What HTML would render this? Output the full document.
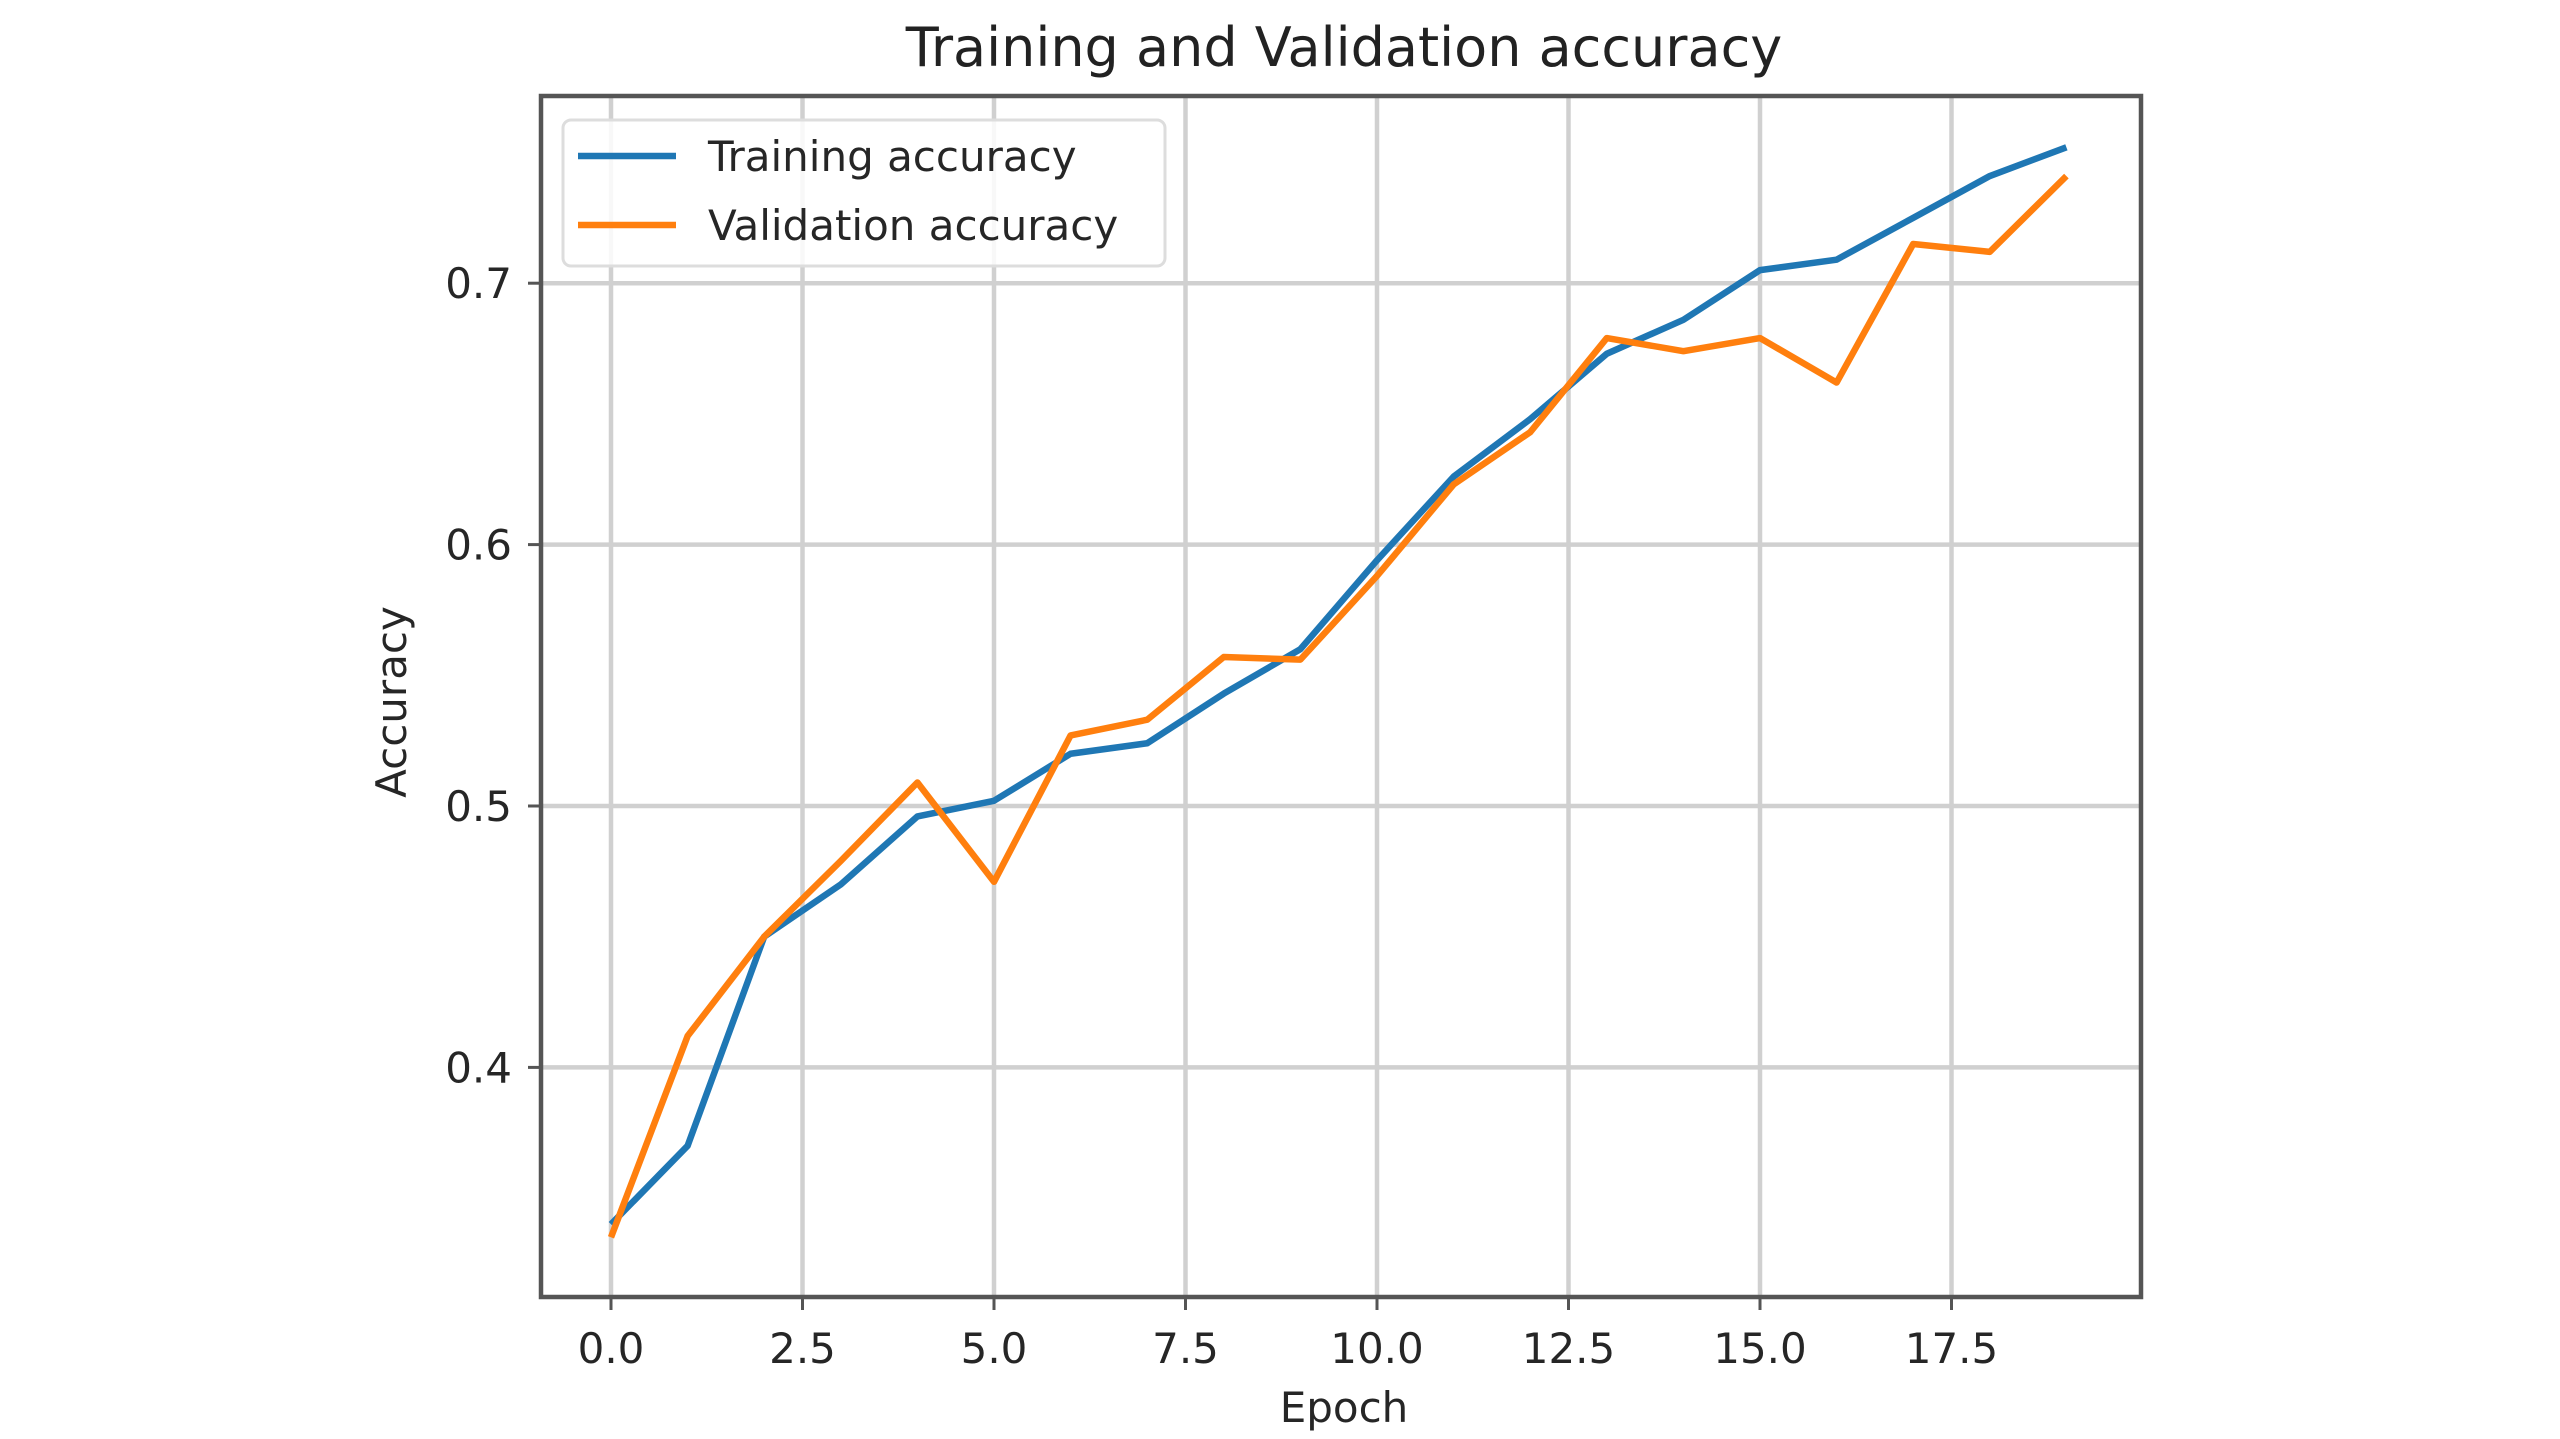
<!DOCTYPE html>
<html><head><meta charset="utf-8"><style>
html,body{margin:0;padding:0;background:#fff;}
svg{display:block;font-family:"DejaVu Sans","Liberation Sans",sans-serif;}
</style></head><body>
<svg id="chart" width="2560" height="1439" viewBox="0 0 2560 1439">
<rect x="0" y="0" width="2560" height="1439" fill="#fff"/>
<g id="grid"></g>
<g id="series"></g>
<rect x="541" y="96" width="1600" height="1201" fill="none" stroke="#555" stroke-width="4.5"/>
<g id="ticks"></g>
<text x="1344" y="66" font-size="54" text-anchor="middle" fill="#222">Training and Validation accuracy</text>
<text x="1344" y="1422" font-size="42" text-anchor="middle" fill="#262626">Epoch</text>
<text x="0" y="0" font-size="42" text-anchor="middle" fill="#262626" transform="translate(406,702) rotate(-90)">Accuracy</text>
<g>
<rect x="563" y="120" width="602" height="146" rx="8" fill="#fff" fill-opacity="0.85" stroke="#ddd" stroke-width="3"/>
<line x1="578" y1="156" x2="676" y2="156" stroke="#1f77b4" stroke-width="6.5"/>
<text x="708" y="171" font-size="42" fill="#262626">Training accuracy</text>
<line x1="578" y1="225" x2="676" y2="225" stroke="#ff7f0e" stroke-width="6.5"/>
<text x="708" y="240" font-size="42" fill="#262626">Validation accuracy</text>
</g>
</svg>
<script>
const epochs = [0,1,2,3,4,5,6,7,8,9,10,11,12,13,14,15,16,17,18,19];
const trainAcc = [0.340,0.370,0.450,0.470,0.496,0.502,0.520,0.524,0.543,0.560,0.594,0.626,0.648,0.673,0.686,0.705,0.709,0.725,0.741,0.752];
const valAcc = [0.335,0.412,0.450,0.479,0.509,0.471,0.527,0.533,0.557,0.556,0.588,0.623,0.643,0.679,0.674,0.679,0.662,0.715,0.712,0.741];
const xTicks = [0,2.5,5,7.5,10,12.5,15,17.5];
const xTickLabels = ["0.0","2.5","5.0","7.5","10.0","12.5","15.0","17.5"];
const yTicks = [0.4,0.5,0.6,0.7];
const yTickLabels = ["0.4","0.5","0.6","0.7"];

const NS="http://www.w3.org/2000/svg";
function xs(v){return 611+v*76.6;}
function ys(v){return 806-(v-0.5)*2614;}
function mk(tag,attrs,parent){const e=document.createElementNS(NS,tag);for(const k in attrs)e.setAttribute(k,attrs[k]);parent.appendChild(e);return e;}
const grid=document.getElementById('grid'),ticks=document.getElementById('ticks'),series=document.getElementById('series');
xTicks.forEach((t,i)=>{
  const g=mk('line',{x1:xs(t),x2:xs(t),y1:96,y2:1297,stroke:'#d0d0d0','stroke-width':4.5},grid);
  
  
  const tk=mk('line',{x1:xs(t),x2:xs(t),y1:1297,y2:1310,stroke:'#555','stroke-width':3},ticks);
  
  
  const tx=mk('text',{x:xs(t),y:1363,'font-size':42,'text-anchor':'middle',fill:'#262626'},ticks);
  tx.textContent=xTickLabels[i];
  
  
});
yTicks.forEach((t,i)=>{
  const g=mk('line',{x1:541,x2:2141,y1:ys(t),y2:ys(t),stroke:'#d0d0d0','stroke-width':4.5},grid);
  
  
  const tk=mk('line',{x1:528,x2:541,y1:ys(t),y2:ys(t),stroke:'#555','stroke-width':3},ticks);
  
  
  const tx=mk('text',{x:512,y:ys(t)+15,'font-size':42,'text-anchor':'end',fill:'#262626'},ticks);
  tx.textContent=yTickLabels[i];
  
  
});
function pts(arr){return arr.map((v,i)=>xs(epochs[i])+','+ys(v)).join(' ');}
const l1=mk('polyline',{points:pts(trainAcc),fill:'none',stroke:'#1f77b4','stroke-width':6.5,'stroke-linejoin':'round'},series);


const l2=mk('polyline',{points:pts(valAcc),fill:'none',stroke:'#ff7f0e','stroke-width':6.5,'stroke-linejoin':'round'},series);


</script>
</body></html>
